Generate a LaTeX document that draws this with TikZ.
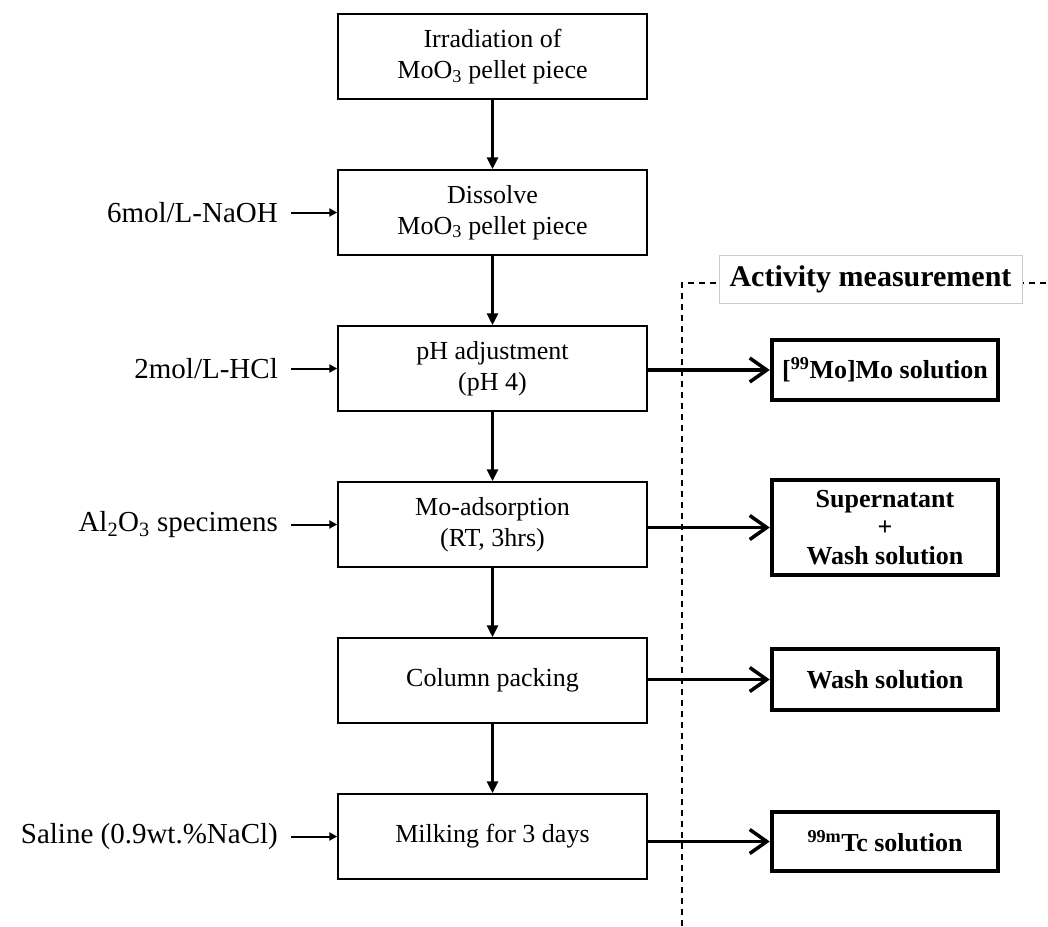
\documentclass[tikz,border=0pt]{standalone}
\usepackage{fontspec}
\setmainfont{Liberation Serif}
\usetikzlibrary{arrows.meta}
\begin{document}
\begin{tikzpicture}[x=1pt,y=-1pt,
  procbox/.style={draw, line width=1.5pt, minimum width=309pt, minimum height=85pt, align=center, font=\fontsize{26}{31}\selectfont, inner sep=0pt},
  resbox/.style={draw, line width=4.5pt, minimum width=226pt, align=center, font=\fontsize{26}{28.5}\selectfont\bfseries, inner sep=0pt},
  inlabel/.style={anchor=east, font=\fontsize{29}{34}\selectfont, inner sep=0pt},
  flowarrow/.style={line width=3.5pt, -{Triangle[length=12pt,width=11pt]}},
  feedarrow/.style={line width=2pt, -{Triangle[length=8pt,width=8pt]}},
  outarrow/.style={line width=3.5pt, -{Straight Barb[length=17pt,width=24pt]}},
  dashline/.style={line width=1.6pt, dash pattern=on 6pt off 5pt},
  actlabel/.style={draw=gray!40, fill=white, line width=1pt, minimum width=303pt, minimum height=48pt, font=\fontsize{30}{36}\selectfont\bfseries, inner sep=0pt}
]
\path[use as bounding box] (0,0) rectangle (1048,926);

% dashed frame
\coordinate (dtop) at (682,283);
\coordinate (dbot) at (682,926);
\coordinate (dright) at (1048,283);
\draw[dashline] (dbot) -- (dtop) -- (dright);
\node[actlabel] (act) at (870.5,279) {Activity measurement};

% process boxes
\node[procbox] (b1) at (492.5,56.5) {Irradiation of\\MoO\textsubscript{3} pellet piece};
\node[procbox] (b2) at (492.5,212.5) {Dissolve\\MoO\textsubscript{3} pellet piece};
\node[procbox] (b3) at (492.5,368.5) {pH adjustment\\(pH 4)};
\node[procbox] (b4) at (492.5,524.5) {Mo-adsorption\\(RT, 3hrs)};
\node[procbox] (b5) at (492.5,680.5) {Column packing};
\node[procbox] (b6) at (492.5,836.5) {Milking for 3 days};

\draw[flowarrow] (b1.south) -- (b2.north);
\draw[flowarrow] (b2.south) -- (b3.north);
\draw[flowarrow] (b3.south) -- (b4.north);
\draw[flowarrow] (b4.south) -- (b5.north);
\draw[flowarrow] (b5.south) -- (b6.north);

% input labels
\node[inlabel] (l2) at (278,212.5) {6mol/L-NaOH};
\node[inlabel] (l3) at (278,368.5) {2mol/L-HCl};
\node[inlabel] (l4) at (278,524.5) {Al\textsubscript{2}O\textsubscript{3} specimens};
\node[inlabel] (l6) at (278,836.5) {Saline (0.9wt.\%NaCl)};

\draw[feedarrow] ([xshift=13pt]l2.east) -- (b2.west);
\draw[feedarrow] ([xshift=13pt]l3.east) -- (b3.west);
\draw[feedarrow] ([xshift=13pt]l4.east) -- (b4.west);
\draw[feedarrow] ([xshift=13pt]l6.east) -- (b6.west);

% result boxes
\node[resbox, minimum height=60pt] (r1) at (885,370) {[\textsuperscript{99}Mo]Mo solution};
\node[resbox, minimum height=95pt] (r2) at (885,527.5) {Supernatant\\+\\Wash solution};
\node[resbox, minimum height=61pt] (r3) at (885,679.5) {Wash solution};
\node[resbox, minimum height=59pt] (r4) at (885,841.5) {\textsuperscript{99m}Tc solution};

\draw[outarrow] (b3.east |- r1.west) -- (r1.west);
\draw[outarrow] (b4.east |- r2.west) -- (r2.west);
\draw[outarrow] (b5.east |- r3.west) -- (r3.west);
\draw[outarrow] (b6.east |- r4.west) -- (r4.west);
\end{tikzpicture}
\end{document}
